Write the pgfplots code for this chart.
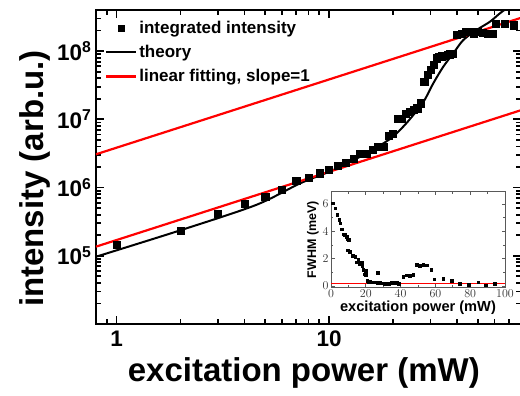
\documentclass[border=0pt]{standalone}
\usepackage{pgfplots}
\pgfplotsset{compat=1.18}
\usepackage{fontspec}
\setmainfont{Liberation Sans}
\begin{document}
\begin{tikzpicture}[x=1pt,y=1pt]
\begin{axis}[
  name=main,
  at={(96pt,72pt)}, anchor=south west,
  scale only axis, width=425pt, height=314pt,
  xmode=log, ymode=log,
  xmin=0.8, xmax=80, ymin=1e4, ymax=4e8,
  axis line style={line width=2.5pt},
  every tick/.style={black, line width=1.8pt},
  major tick length=8pt, minor tick length=5pt,
  tick align=inside,
  xtick={1,10}, xticklabels={1,10},
  minor xtick={0.9,2,3,4,5,6,7,8,9,20,30,40,50,60,70,80},
  ytick={1e5,1e6,1e7,1e8},
  yticklabels={{10\textsuperscript{5}},{10\textsuperscript{6}},{10\textsuperscript{7}},{10\textsuperscript{8}}},
  minor ytick={2e4,3e4,4e4,5e4,6e4,7e4,8e4,9e4,2e5,3e5,4e5,5e5,6e5,7e5,8e5,9e5,2e6,3e6,4e6,5e6,6e6,7e6,8e6,9e6,2e7,3e7,4e7,5e7,6e7,7e7,8e7,9e7,2e8,3e8},
  ticklabel style={font=\bfseries\fontsize{22.5}{22.5}\selectfont},
  xticklabel style={yshift=-3pt},
  yticklabel style={xshift=-1pt},
  xlabel={excitation power (mW)},
  ylabel={intensity (arb.u.)},
  label style={font=\bfseries\fontsize{33}{33}\selectfont},
  xlabel style={at={(axis description cs:0.489,-0.1838)}, anchor=base},
  ylabel style={at={(axis description cs:-0.1247,0.463)}, anchor=base},
  legend style={at={(0.021,0.972)}, anchor=north west, draw=none, fill=none,
    font=\bfseries\fontsize{17}{17}\selectfont, inner sep=0pt, row sep=6.5pt,
    nodes={inner sep=2pt}},
  legend cell align=left,
  legend image code/.code={\draw[#1,mark repeat=2,mark phase=2,mark size=3pt] plot coordinates {(0pt,0pt) (15pt,0pt) (30pt,0pt)};},
  clip=true,
]
\addplot[only marks, mark=square*, mark size=3.6pt, black] coordinates {
(1,1.47e5) (2,2.35e5) (3,4.1e5) (4,5.8e5) (5,7.35e5) (6,9.4e5) (7,1.25e6)
(8,1.41e6) (9,1.62e6) (10,1.81e6) (11,2.09e6) (12,2.34e6) (13,2.62e6)
(14,3.1e6) (15,3.1e6) (16,3.63e6) (17,3.97e6) (18,3.97e6) (19,5.7e6)
(20,6.1e6) (21,1.03e7) (22,1.03e7) (23,1.2e7) (24,1.29e7) (25,1.37e7)
(26,1.45e7) (27,1.72e7) (28,3.56e7) (29,4.46e7) (30,5.28e7) (31,6.25e7)
(32,7.84e7) (33,8.28e7) (34,8.4e7) (35,8.5e7) (36,8.8e7) (37,9.0e7)
(38,9.27e7) (40,1.72e8) (42,1.82e8) (44,1.92e8) (46,1.9e8) (48,1.82e8)
(50,1.92e8) (53,1.85e8) (56,1.82e8) (59,1.82e8) (61,2.55e8) (67,2.55e8)
(74,2.4e8)
};
\addlegendentry{integrated intensity}
\addplot[black, line width=2pt, smooth] coordinates {
(0.8,9.68e4) (2.02,2.39e5) (4.53,5.55e5) (7.3,1.15e6) (10.47,1.81e6)
(15.03,3.18e6) (19.35,5.14e6) (21.56,6.97e6) (24.03,1.01e7) (27.76,1.79e7)
(30.93,3.37e7) (34.46,5.9e7) (38.42,9.27e7) (42.8,1.45e8) (49.5,2.04e8)
(57.2,2.7e8) (63.7,3.58e8) (71.0,4.58e8) (80,6.0e8)
};
\addlegendentry{theory}
\addplot[red, line width=2.2pt] coordinates {(0.8,3.07e6) (80,3.07e8)};
\addlegendentry{linear fitting, slope=1}
\addplot[red, line width=2.2pt, forget plot] coordinates {(0.8,1.36e5) (80,1.36e7)};
\end{axis}
\begin{axis}[
  at={(331pt,108.7pt)}, anchor=south west,
  scale only axis, width=174pt, height=95.6pt,
  xmin=0, xmax=100, ymin=-0.1, ymax=6.9,
  axis background/.style={fill=white},
  axis line style={line width=0.9pt, black!65},
  every tick/.style={black!65, line width=0.8pt},
  major tick length=3.5pt, minor tick length=2pt,
  tick align=inside,
  xtick={0,20,40,60,80,100}, minor xtick={10,30,50,70,90},
  ytick={0,2,4,6}, minor ytick={1,3,5},
  ticklabel style={font=\fontsize{11.5}{11.5}\selectfont, black!80},
  xticklabel style={yshift=1pt},
  yticklabel style={xshift=1pt},
  xlabel={excitation power (mW)},
  ylabel={FWHM (meV)},
  xlabel style={font=\bfseries\fontsize{14.6}{14.6}\selectfont, yshift=4pt},
  ylabel style={font=\bfseries\fontsize{12.5}{12.5}\selectfont, yshift=-3pt},
]
\addplot[red, line width=1.2pt] coordinates {(0,0.2) (100,0.2)};
\addplot[only marks, mark=square*, mark size=1.3pt, black] coordinates {
(1,6.05) (2.3,5.7) (3.6,5.2) (4.6,4.87) (5.2,4.6) (6.1,4.16) (7.1,3.8)
(8,3.74) (9,3.6) (9.4,3.45) (10,3.4) (9.6,2.63) (10.9,2.5) (12.5,2.23)
(13.8,2.16) (14.4,1.74) (15.7,1.92) (16.3,1.62) (17.6,1.69) (17.9,1.5)
(18.6,1.17) (19,0.86) (20.1,1.1) (20,0.82) (20.9,0.4) (21.6,0.3) (22.5,0.3)
(23.5,0.28) (24.5,0.27) (25.5,0.28) (26.5,0.25) (27,0.95) (28,0.22)
(29,0.2) (30,0.2) (31,0.18) (32,0.2) (33,0.18) (34,0.2) (35,0.22)
(36,0.25) (37,0.2) (38,0.22) (39,0.15) (41.6,0.68) (43.5,0.8) (45.4,0.75)
(47.3,0.82) (49.2,1.57) (51.1,1.5) (53,1.57) (55,1.53) (57.5,1.2)
(59.2,0.49) (64.5,0.51) (69.5,0.39) (74,0.15) (79,0.1) (84.6,0.27)
(89,0.05) (94,0.15)
};
\end{axis}
\pgfresetboundingbox
\useasboundingbox (0,0) rectangle (520,396);
\end{tikzpicture}
\end{document}
